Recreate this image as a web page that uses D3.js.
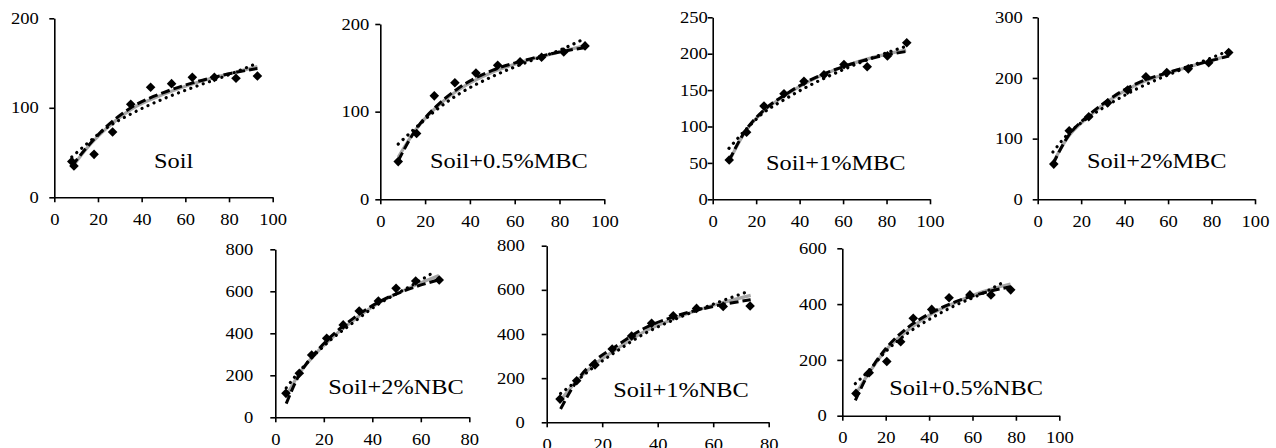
<!DOCTYPE html>
<html>
<head>
<meta charset="utf-8">
<script src="https://cdn.jsdelivr.net/npm/d3@7"></script>
<style>
  html, body { margin: 0; padding: 0; background: #fff; }
  svg { display: block; }
  text { font-family: "Liberation Serif", "Times New Roman", serif; fill: #000; }
</style>
</head>
<body>
<svg id="chart" width="1276" height="448"></svg>
<script>
// ---------------- DATA ----------------
const panelNames = ["Soil", "Soil+0.5%MBC", "Soil+1%MBC", "Soil+2%MBC", "Soil+2%NBC", "Soil+1%NBC", "Soil+0.5%NBC"];
const xMaxes = [100, 100, 100, 100, 80, 80, 100];
const xTickStep = [20, 20, 20, 20, 20, 20, 20];
const yMaxes = [200, 200, 250, 300, 800, 800, 600];
const yTickStep = [100, 100, 50, 100, 200, 200, 200];

// observed points (time, adsorbed amount)
const obsTime = [
  [8, 9, 18.2, 26.7, 35, 44.1, 53.7, 63.2, 73.3, 83.2, 93],
  [8, 16.2, 24.1, 33.3, 42.7, 52.4, 62.4, 72, 81.9, 91.4],
  [7.6, 15.6, 23.6, 32.8, 42, 51.2, 60.4, 71.1, 80.4, 89.3],
  [7.4, 14.5, 23.5, 32.2, 41.4, 49.8, 59.4, 69.3, 78.7, 87.9],
  [4.4, 9.9, 15, 21.2, 28, 34.6, 42.5, 49.8, 57.9, 67.6],
  [4.8, 10.8, 17.4, 23.6, 30.6, 37.8, 45.6, 54, 63.6, 73.3],
  [6.3, 12.4, 20.5, 26.9, 32.7, 41.2, 49.2, 58.8, 68.5, 77.6]
];
const obsQ = [
  [40, 35, 48, 73, 104, 123, 127, 134, 134, 133, 135.5],
  [43, 75, 118, 133, 144, 153, 157, 162, 168, 175],
  [54, 92, 128, 145, 162, 171, 185, 182, 197, 215],
  [58, 113, 136, 159, 180, 202, 209, 215, 225, 242],
  [114, 210, 297, 376, 440, 506, 554, 614, 649, 654],
  [105, 188, 260, 332, 391, 449, 483, 516, 525, 527],
  [80, 154, 194, 265, 349, 381, 423, 433, 433, 451]
];

// fitted curves: [time, value] pairs
const grayCurve = [
  [[8,33],[15,55],[23,75],[35,98],[50,115],[65,128],[80,138],[93,146]],
  [[8,48],[16,80],[25,105],[35,125],[50,145],[65,158],[80,168],[91,175]],
  [[7.5,52],[15,93],[23,120],[33,142],[45,163],[60,182],[75,196],[89,205]],
  [[7,60],[14,103],[23,135],[33,163],[45,188],[60,208],[75,224],[88,237]],
  [[4.5,100],[10,210],[16,295],[23,375],[32,460],[42,540],[55,615],[67.5,675]],
  [[5,100],[11,190],[18,270],[25,330],[35,410],[45,465],[60,530],[73.5,575]],
  [[6,75],[12,150],[20,235],[30,305],[40,360],[52,405],[65,445],[77.5,472]]
];
const dashCurve = [
  [[8,35],[15,56],[23,77],[35,100],[50,117],[65,129],[80,138],[93,144]],
  [[8,44],[16,80],[25,106],[35,127],[50,147],[65,159],[80,168],[91,173]],
  [[7.5,53],[15,94],[23,121],[33,143],[45,164],[60,182],[75,195],[89,203]],
  [[7,58],[14,104],[23,137],[33,165],[45,190],[60,209],[75,224],[88,236]],
  [[4.5,65],[10,205],[16,300],[23,385],[32,470],[42,545],[55,610],[67.5,655]],
  [[5,60],[11,190],[18,285],[25,345],[35,425],[45,475],[60,525],[73.5,555]],
  [[6,55],[12,150],[20,240],[30,315],[40,365],[52,408],[65,440],[77.5,462]]
];
const dotCurve = [
  [[8,45],[15,60],[23,76],[35,93],[50,110],[65,124],[80,137],[93,150]],
  [[8,63],[16,82],[25,102],[35,120],[50,140],[65,156],[80,170],[91,183]],
  [[7.5,70],[15,95],[23,118],[33,137],[45,157],[60,178],[75,196],[89,210]],
  [[7,78],[14,108],[23,134],[33,157],[45,181],[60,205],[75,226],[88,245]],
  [[4.5,140],[10,220],[16,295],[23,370],[32,450],[42,535],[55,620],[66,695]],
  [[5,130],[11,190],[18,260],[25,320],[35,400],[45,460],[60,535],[72.5,592]],
  [[6,115],[12,160],[20,230],[30,295],[40,345],[52,395],[65,440],[75,482]]
];

// ---------------- LAYOUT ----------------
const plotLeft   = [54.3, 380.3, 712.7, 1037.7, 275.3, 546.7, 842.3];
const plotRight  = [272.7, 604.3, 930, 1255, 469.3, 768.7, 1059.3];
const plotBottom = [197.3, 199.3, 199.3, 199.3, 417.3, 422.3, 415.7];
const plotTop    = [18.3, 24, 17.3, 17.3, 249.3, 245.7, 248.3];
const yLabelGap  = [15.5, 11, 5, 15, 22, 22, 15.5];
const labelX     = [154, 430, 766, 1087, 328.3, 613.3, 889.3];
const labelY     = [168, 167.7, 170, 168.3, 394, 396.7, 395];

const TICK_FONT = 16, LABEL_FONT = 21, SX = 1.16;

const svg = d3.select("#chart");

panelNames.forEach((name, i) => {
  const x = d3.scaleLinear().domain([0, xMaxes[i]]).range([plotLeft[i], plotRight[i]]);
  const y = d3.scaleLinear().domain([0, yMaxes[i]]).range([plotBottom[i], plotTop[i]]);
  const g = svg.append("g");

  // axes
  const xAxis = d3.axisBottom(x)
    .tickValues(d3.range(0, xMaxes[i] + 0.001, xTickStep[i]))
    .tickSizeInner(5).tickSizeOuter(0).tickPadding(11);
  const gx = g.append("g").attr("transform", `translate(0,${plotBottom[i]})`).call(xAxis);
  const yAxis = d3.axisLeft(y)
    .tickValues(d3.range(0, yMaxes[i] + 0.001, yTickStep[i]))
    .tickSizeInner(5).tickSizeOuter(0).tickPadding(0);
  const gy = g.append("g").attr("transform", `translate(${plotLeft[i]},0)`).call(yAxis);

  [gx, gy].forEach(a => {
    a.select(".domain").attr("stroke", "#000").attr("stroke-width", 1.6);
    a.selectAll(".tick line").attr("stroke", "#000").attr("stroke-width", 1.6);
    a.selectAll(".tick text")
      .attr("font-family", "Liberation Serif, Times New Roman, serif")
      .attr("font-size", TICK_FONT).attr("fill", "#000");
  });
  gx.selectAll(".tick text").attr("transform", `scale(${SX},1)`);
  gy.selectAll(".tick text")
    .attr("x", -yLabelGap[i] / SX)
    .attr("transform", `scale(${SX},1)`);

  const line = d3.line().x(d => x(d[0])).y(d => y(d[1])).curve(d3.curveMonotoneX);

  g.append("path").datum(grayCurve[i]).attr("d", line)
    .attr("fill", "none").attr("stroke", "#a6a6a6").attr("stroke-width", 3.2);
  g.append("path").datum(dashCurve[i]).attr("d", line)
    .attr("fill", "none").attr("stroke", "#000").attr("stroke-width", 3)
    .attr("stroke-dasharray", "9,4");
  g.append("path").datum(dotCurve[i]).attr("d", line)
    .attr("fill", "none").attr("stroke", "#000").attr("stroke-width", 3.2)
    .attr("stroke-linecap", "round").attr("stroke-dasharray", "0.1,6.5");

  const sym = d3.symbol().type(d3.symbolSquare).size(46);
  g.selectAll("path.pt").data(obsTime[i].map((t, k) => [t, obsQ[i][k]]))
    .enter().append("path").attr("class", "pt")
    .attr("d", sym)
    .attr("transform", d => `translate(${x(d[0])},${y(d[1])}) rotate(45)`)
    .attr("fill", "#000");

  g.append("text")
    .attr("transform", `translate(${labelX[i]},${labelY[i]}) scale(${SX},1)`)
    .attr("font-size", LABEL_FONT)
    .text(name);
});
</script>
</body>
</html>
